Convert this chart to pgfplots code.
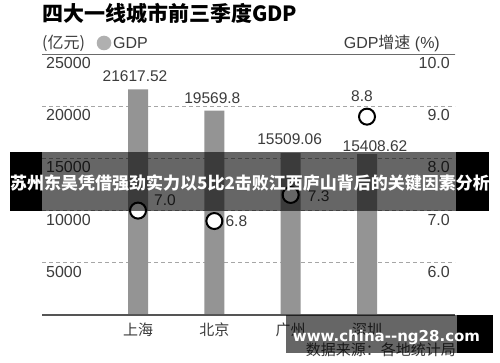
\documentclass[border=0pt]{standalone}
\usepackage{pgfplots}
\pgfplotsset{compat=1.18}
\usepackage{pgfplotstable}
\usepackage{fontspec}
\setmainfont{Liberation Sans}
\newfontfamily\cjk{Noto Sans CJK SC}
\newfontfamily\wm{DejaVu Sans}
\definecolor{bargray}{HTML}{949494}
\definecolor{txt}{HTML}{3C3C3C}
\definecolor{gridc}{HTML}{A6A6A6}
\definecolor{dotc}{HTML}{B0B0B0}
\definecolor{linec}{HTML}{6A6A6A}

\pgfplotstableread{
x y label dx dy
0 21617.52 21617.52 -3 13
1 19569.8 19569.8 -2 12.5
2 15509.06 15509.06 -1 14
3 15408.62 15408.62 8 8
}\gdptable

\pgfplotstableread{
x y label dx dy
0 7.0 7.0 27 10.5
1 6.8 6.8 22 0
2 7.3 7.3 28 -1
3 8.8 8.8 -5 20.5
}\speedtable

\begin{document}
\begin{tikzpicture}
\path[use as bounding box, fill=white] (0,0) rectangle (500pt,362pt);

\begin{axis}[
  at={(42pt,47pt)}, anchor=south west,
  scale only axis, width=413pt, height=261pt,
  xmin=-1.258, xmax=4.153, ymin=0, ymax=25000,
  axis line style={draw=none},
  major tick length=0pt,
  xtick={0,1,2,3}, xticklabels={上海,北京,广州,深圳},
  xticklabel style={font=\cjk\fontsize{15}{15}\selectfont, text=txt, anchor=center, inner sep=0pt, yshift=-15pt},
  ytick={5000,10000,15000,20000,25000},
  scaled y ticks=false,
  yticklabel style={font=\fontsize{16}{16}\selectfont, text=txt, anchor=west, inner sep=0pt, xshift=4pt, yshift=-9pt},
  /pgf/number format/assume math mode=true,
  /pgf/number format/1000 sep={},
  ymajorgrids, grid style={gridc, dash pattern=on 4pt off 3pt, line width=0.8pt},
  clip=false,
]
\addplot[ybar, bar width=20pt, fill=bargray, draw=none,
  nodes near coords, point meta=explicit symbolic,
  visualization depends on={\thisrow{dx} \as \dx},
  visualization depends on={\thisrow{dy} \as \dy},
  every node near coord/.append style={anchor=center, inner sep=0pt, xshift=\dx pt, yshift=\dy pt, font=\fontsize{15.5}{15.5}\selectfont, text=txt}
] table[x=x, y=y, meta=label] {\gdptable};
\draw[linec, line width=0.9pt] (rel axis cs:0,1) -- (rel axis cs:1,1);
\draw[linec!80!black, line width=1.4pt] (rel axis cs:0,0) -- (rel axis cs:1,0);
\end{axis}

\begin{axis}[
  at={(42pt,47pt)}, anchor=south west,
  scale only axis, width=413pt, height=261pt,
  xmin=-1.258, xmax=4.153, ymin=5, ymax=10,
  axis line style={draw=none},
  major tick length=0pt,
  xtick=\empty,
  ytick={6,7,8,9,10},
  yticklabel pos=right,
  yticklabel style={font=\fontsize{16}{16}\selectfont, text=txt, anchor=east, inner sep=0pt, xshift=-5pt, yshift=-9pt,
     /pgf/number format/fixed, /pgf/number format/fixed zerofill, /pgf/number format/precision=1},
  /pgf/number format/assume math mode=true,
  clip=false,
]
\addplot[only marks, mark=*, mark size=8pt, mark options={fill=white, draw=black, line width=2pt},
  nodes near coords, point meta=explicit symbolic,
  visualization depends on={\thisrow{dx} \as \dx},
  visualization depends on={\thisrow{dy} \as \dy},
  every node near coord/.append style={anchor=center, inner sep=0pt, xshift=\dx pt, yshift=\dy pt, font=\fontsize{15.5}{15.5}\selectfont, text=txt}
] table[x=x, y=y, meta=label] {\speedtable};
\end{axis}

% header
\node[anchor=west, inner sep=0pt, font=\cjk\bfseries\fontsize{21}{21}\selectfont] at (42pt,349pt) {四大一线城市前三季度GDP};
\node[anchor=west, inner sep=0pt, text=txt, font=\cjk\fontsize{16}{16}\selectfont] at (42pt,319pt) {(亿元)};
\fill[dotc] (104pt,319pt) circle (7.3pt);
\node[anchor=west, inner sep=0pt, text=txt, font=\fontsize{16}{16}\selectfont] at (113pt,319pt) {GDP};
\node[anchor=east, inner sep=0pt, text=txt, font=\fontsize{16}{16}\selectfont] at (440pt,319pt) {GDP{\cjk 增速} (\%)};

% source
\node[anchor=east, inner sep=0pt, text=txt, font=\cjk\fontsize{15}{15}\selectfont] at (456pt,12pt) {数据来源：各地统计局};

% banner overlay
\fill[black] (10pt,151pt) rectangle (42pt,210pt);
\fill[black, opacity=0.6] (42pt,151pt) rectangle (456pt,210pt);
\fill[black] (456pt,151pt) rectangle (489pt,210pt);
\node[text=white, inner sep=0pt, font=\cjk\bfseries\fontsize{17}{17}\selectfont] at (250pt,179pt) {苏州东吴凭借强劲实力以5比2击败江西庐山背后的关键因素分析};

% watermark overlay
\fill[black, opacity=0.6] (286pt,9pt) rectangle (457pt,47pt);
\fill[black] (457pt,9pt) rectangle (493pt,47pt);
\node[text=white, inner sep=0pt, font=\wm\bfseries\fontsize{15}{15}\selectfont] at (386.5pt,25pt) {www.china{-}{-}ng28.com};
\end{tikzpicture}
\end{document}
